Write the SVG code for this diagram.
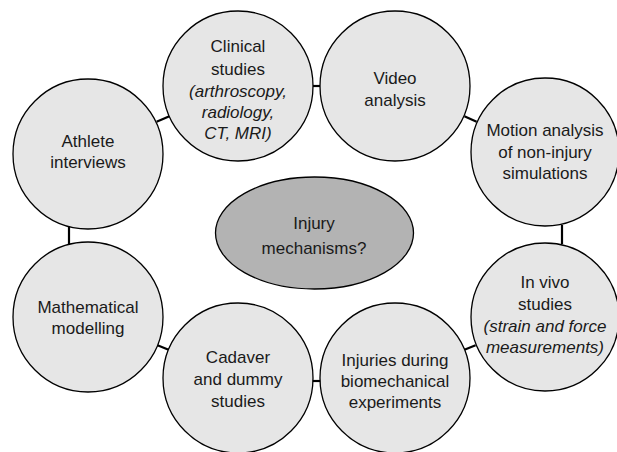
<svg xmlns="http://www.w3.org/2000/svg" width="617" height="452" viewBox="0 0 617 452">
<style>
.node{fill:#e6e6e6;stroke:#000;stroke-width:1.3}
.hub{fill:#b3b3b3;stroke:#000;stroke-width:1.3}
.conn line{stroke:#000;stroke-width:2.2}
text{font-family:"Liberation Sans",Arial,sans-serif;font-size:17px;fill:#1a1a1a;text-anchor:middle}
.it{font-style:italic}
</style>
<rect width="617" height="452" fill="#fff"/>
<g id="connectors" class="conn">
<line x1="156.6" y1="121.8" x2="169.4" y2="116.2"/>
<line x1="312" y1="86" x2="321" y2="86"/>
<line x1="464.4" y1="116.2" x2="476.6" y2="121.8"/>
<line x1="562" y1="225" x2="562" y2="244"/>
<line x1="69" y1="226" x2="69" y2="244"/>
<line x1="157.5" y1="345.3" x2="168.6" y2="349.7"/>
<line x1="312" y1="381" x2="321" y2="381"/>
<line x1="464.4" y1="349.7" x2="475.6" y2="345.3"/>
</g>
<g id="clinical">
<circle class="node" cx="238" cy="86" r="75"/>
<text x="238" y="52">Clinical</text>
<text x="238" y="75">studies</text>
<text class="it" x="238" y="97">(arthroscopy,</text>
<text class="it" x="238" y="118">radiology,</text>
<text class="it" x="238" y="139">CT, MRI)</text>
</g>
<g id="video">
<circle class="node" cx="395" cy="86" r="75"/>
<text x="395" y="84">Video</text>
<text x="395" y="106">analysis</text>
</g>
<g id="athlete">
<circle class="node" cx="88" cy="154" r="75"/>
<text x="88" y="147">Athlete</text>
<text x="88" y="168">interviews</text>
</g>
<g id="motion">
<circle class="node" cx="545" cy="152" r="74"/>
<text x="545" y="136">Motion analysis</text>
<text x="545" y="158">of non-injury</text>
<text x="545" y="179">simulations</text>
</g>
<g id="hub">
<ellipse class="hub" cx="314.5" cy="233" rx="99" ry="56"/>
<text x="314" y="229">Injury</text>
<text x="314" y="254">mechanisms?</text>
</g>
<g id="math">
<circle class="node" cx="88" cy="317" r="75"/>
<text x="88" y="313">Mathematical</text>
<text x="88" y="334">modelling</text>
</g>
<g id="invivo">
<circle class="node" cx="545" cy="317" r="74"/>
<text x="545" y="288">In vivo</text>
<text x="545" y="310">studies</text>
<text class="it" x="545" y="332">(strain and force</text>
<text class="it" x="545" y="353">measurements)</text>
</g>
<g id="cadaver">
<circle class="node" cx="238" cy="378" r="75"/>
<text x="238" y="363">Cadaver</text>
<text x="238" y="385">and dummy</text>
<text x="238" y="407">studies</text>
</g>
<g id="injuries">
<circle class="node" cx="395" cy="378" r="75"/>
<text x="395" y="366">Injuries during</text>
<text x="395" y="387">biomechanical</text>
<text x="395" y="408">experiments</text>
</g>
</svg>
